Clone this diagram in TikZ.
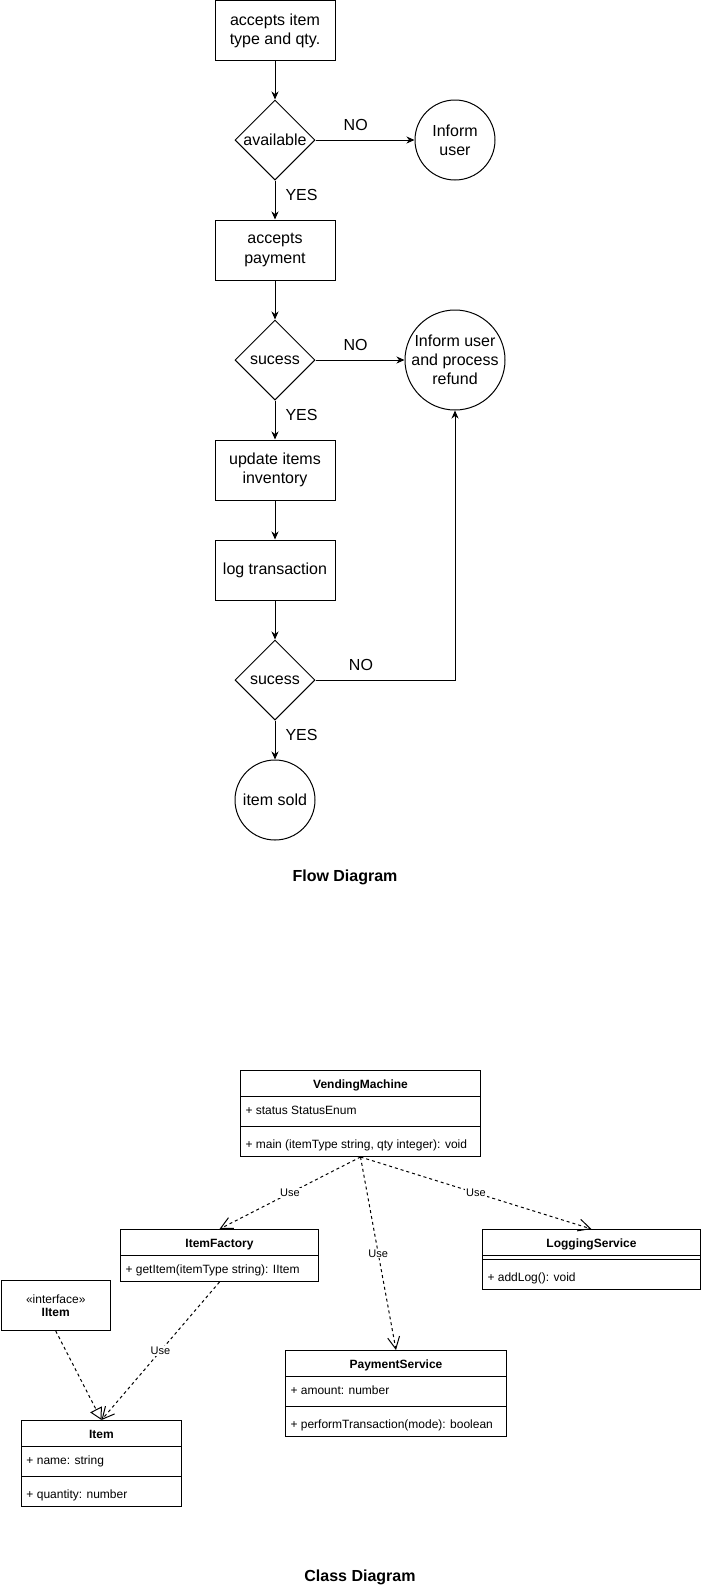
\documentclass[tikz,border=0pt]{standalone}
\usepackage{fontspec}
\setmainfont{Liberation Sans}
\usetikzlibrary{arrows.meta,shapes.geometric,calc}
\newcommand\flowfont{\fontsize{16}{19.2}\selectfont}
\newcommand\clsfont{\fontsize{12}{14}\selectfont}
\newcommand\deplblfont{\fontsize{11}{13}\selectfont}
\begin{document}
\begin{tikzpicture}[x=1pt, y=-1pt, line width=1pt,
  proc/.style={draw, rectangle, minimum width=120pt, minimum height=60pt, inner sep=0pt, align=center, font=\flowfont},
  decision/.style={draw, diamond, aspect=1, minimum width=80pt, minimum height=80pt, inner sep=0pt, font=\flowfont},
  terminal/.style={draw, circle, inner sep=0pt},
  termtext/.style={font=\flowfont, align=center, inner sep=0pt},
  flow/.style={-{Stealth[length=8pt, width=7pt, inset=2.5pt]}},
  branch/.style={font=\flowfont, inner sep=0pt},
  caption/.style={font=\flowfont\bfseries, anchor=base, inner sep=0pt},
  cls/.style={draw, rectangle, anchor=north west, inner sep=0pt},
  clsname/.style={font=\clsfont\bfseries, anchor=base, inner sep=0pt},
  member/.style={font=\clsfont, anchor=base west, inner sep=0pt},
  stereo/.style={font=\clsfont, anchor=base, inner sep=0pt},
  dashpat/.style={dash pattern=on 3pt off 3pt},
  dep/.style={dashpat, -{Straight Barb[length=12pt, width=12pt]}},
  realize/.style={dashpat, -{Triangle[open, length=12pt, width=13pt]}},
  deplbl/.style={font=\deplblfont, fill=white, inner sep=1pt}
]
\useasboundingbox (0,0) rectangle (701,1591);

% ---------------- flow diagram ----------------
\node[proc] (accept) at (275,30.5) {accepts item\\type and qty.};
\node[decision] (avail) at (275,140) {available};
\node[terminal, minimum size=80pt, label={[termtext]center:Inform\\user}] (inform) at (455,140) {};
\node[proc] (pay) at (275,250) {accepts\\payment};
\node[decision] (paid) at (275,360) {sucess};
\node[terminal, minimum size=100pt, label={[termtext]center:Inform user\\and process\\refund}] (refund) at (455,360) {};
\node[proc] (stock) at (275,470) {update items\\inventory};
\node[proc] (logtx) at (275,570) {log transaction};
\node[decision] (logged) at (275,680) {sucess};
\node[terminal, minimum size=80pt, label={[termtext]center:item sold}] (sold) at (275,800) {};

\draw[flow] (accept) -- (avail);
\draw[flow] (avail) -- node[branch, pos=0.406, anchor=base, yshift=9.5pt] {NO} (inform);
\draw[flow] (avail) -- node[branch, pos=0.52, anchor=base west, xshift=10pt] {YES} (pay);
\draw[flow] (pay) -- (paid);
\draw[flow] (paid) -- node[branch, pos=0.45, anchor=base, yshift=9.5pt] {NO} (refund);
\draw[flow] (paid) -- node[branch, pos=0.52, anchor=base west, xshift=10pt] {YES} (stock);
\draw[flow] (stock) -- (logtx);
\draw[flow] (logtx) -- (logged);
\draw[flow] (logged) -| node[branch, pos=0.163, anchor=base, yshift=9.5pt] {NO} (refund);
\draw[flow] (logged) -- node[branch, pos=0.52, anchor=base west, xshift=10pt] {YES} (sold);

\node[caption] (flowcap) at (345,881.5) {Flow Diagram};

% ---------------- class diagram ----------------
% VendingMachine
\node[cls, minimum width=240pt, minimum height=86pt] (vm) at (240,1070) {};
\node[clsname] (vmname) at ($(vm.north)+(0,18)$) {VendingMachine};
\draw ($(vm.north west)+(0,26)$) -- ($(vm.north east)+(0,26)$);
\node[member] (vmstatus) at ($(vm.north west)+(5,44)$) {+ status StatusEnum};
\draw ($(vm.north west)+(0,56)$) -- ($(vm.north east)+(0,56)$);
\node[member] (vmmain) at ($(vm.north west)+(5,78)$) {+ main (itemType string, qty integer): void};

% ItemFactory
\node[cls, minimum width=198pt, minimum height=52pt] (ifac) at (120,1229) {};
\node[clsname] (ifacname) at ($(ifac.north)+(0,18)$) {ItemFactory};
\draw ($(ifac.north west)+(0,26)$) -- ($(ifac.north east)+(0,26)$);
\node[member] (ifacget) at ($(ifac.north west)+(5,44)$) {+ getItem(itemType string): IItem};

% LoggingService
\node[cls, minimum width=218pt, minimum height=60pt] (logsvc) at (482,1229) {};
\node[clsname] (logname) at ($(logsvc.north)+(0,18)$) {LoggingService};
\draw ($(logsvc.north west)+(0,26)$) -- ($(logsvc.north east)+(0,26)$);
\draw ($(logsvc.north west)+(0,30)$) -- ($(logsvc.north east)+(0,30)$);
\node[member] (logadd) at ($(logsvc.north west)+(5,52)$) {+ addLog(): void};

% PaymentService
\node[cls, minimum width=221pt, minimum height=86pt] (paysvc) at (285,1350) {};
\node[clsname] (payname) at ($(paysvc.north)+(0,18)$) {PaymentService};
\draw ($(paysvc.north west)+(0,26)$) -- ($(paysvc.north east)+(0,26)$);
\node[member] (payamount) at ($(paysvc.north west)+(5,44)$) {+ amount: number};
\draw ($(paysvc.north west)+(0,56)$) -- ($(paysvc.north east)+(0,56)$);
\node[member] (payperform) at ($(paysvc.north west)+(5,78)$) {+ performTransaction(mode): boolean};

% IItem interface
\node[cls, minimum width=109.5pt, minimum height=50pt] (iitem) at (0.5,1280) {};
\node[stereo] (iitemstereo) at ($(iitem.north)+(0,23.3)$) {«interface»};
\node[clsname] (iitemname) at ($(iitem.north)+(0,36.7)$) {IItem};

% Item
\node[cls, minimum width=160pt, minimum height=86pt] (item) at (21,1420) {};
\node[clsname] (itemname) at ($(item.north)+(0,18)$) {Item};
\draw ($(item.north west)+(0,26)$) -- ($(item.north east)+(0,26)$);
\node[member] (itemnm) at ($(item.north west)+(5,44)$) {+ name: string};
\draw ($(item.north west)+(0,56)$) -- ($(item.north east)+(0,56)$);
\node[member] (itemqty) at ($(item.north west)+(5,78)$) {+ quantity: number};

% relations
\draw[dep] (vm.south) -- node[deplbl] {Use} (ifac.north);
\draw[dep] (vm.south) -- node[deplbl] {Use} (paysvc.north);
\draw[dep] (vm.south) -- node[deplbl] {Use} (logsvc.north);
\draw[dep] (ifac.south) -- node[deplbl] {Use} (item.north);
\draw[realize] (iitem.south) -- (item.north);

\node[caption] (clscap) at (360,1581.5) {Class Diagram};
\end{tikzpicture}
\end{document}
